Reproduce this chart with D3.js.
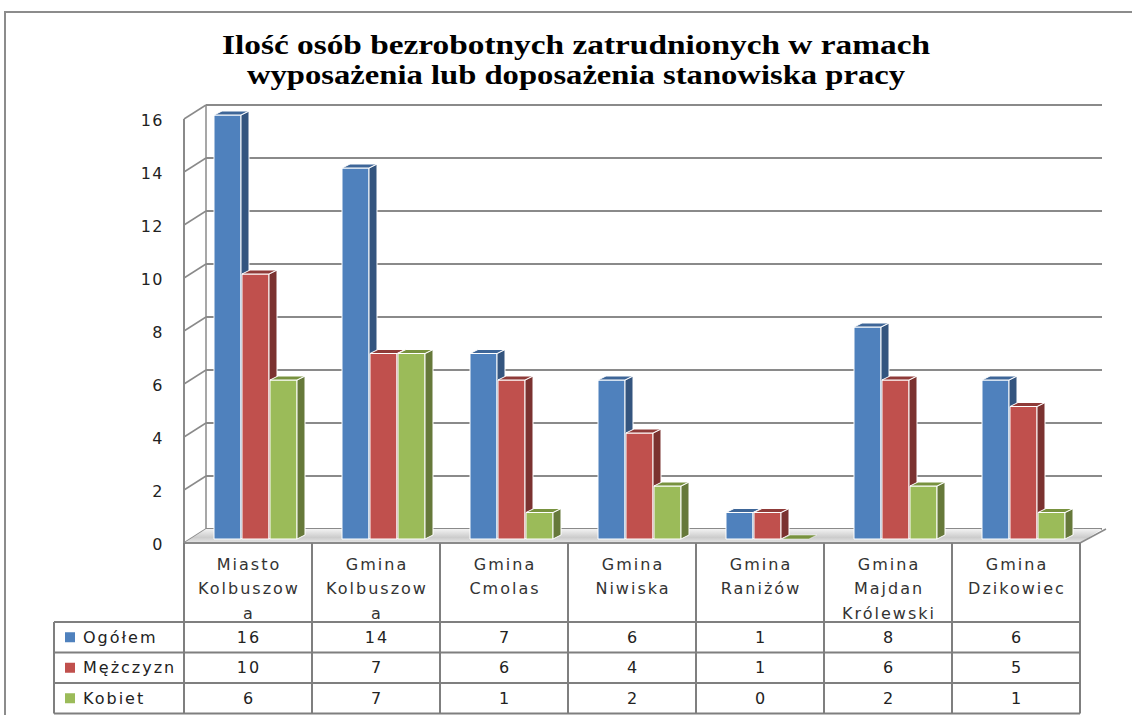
<!DOCTYPE html>
<html>
<head>
<meta charset="utf-8">
<script src="https://cdn.jsdelivr.net/npm/d3@7"></script>
<style>
  body { margin: 0; background: #fff; }
  svg text { font-family: "DejaVu Sans", sans-serif; }
</style>
</head>
<body>
<script>
// DATA
var categories = ["Miasto Kolbuszowa", "Gmina Kolbuszowa", "Gmina Cmolas", "Gmina Niwiska", "Gmina Raniżów", "Gmina Majdan Królewski", "Gmina Dzikowiec"];
var categoryLines = [["Miasto", "Kolbuszow", "a"], ["Gmina", "Kolbuszow", "a"], ["Gmina", "Cmolas"], ["Gmina", "Niwiska"], ["Gmina", "Raniżów"], ["Gmina", "Majdan", "Królewski"], ["Gmina", "Dzikowiec"]];
var seriesNames = ["Ogółem", "Mężczyzn", "Kobiet"];
var ogolem = [16, 14, 7, 6, 1, 8, 6];
var mezczyzn = [10, 7, 6, 4, 1, 6, 5];
var kobiet = [6, 7, 1, 2, 0, 2, 1];
var yTicks = [0, 2, 4, 6, 8, 10, 12, 14, 16];
var titleLines = ["Ilość osób bezrobotnych zatrudnionych w ramach", "wyposażenia lub doposażenia stanowiska pracy"];

var seriesValues = [ogolem, mezczyzn, kobiet];
var colors = [
  { front: "#4f81bd", side: "#34557f", top: "#3e6698" },
  { front: "#c0504d", side: "#7b3230", top: "#8f3b39" },
  { front: "#9bbb59", side: "#66793a", top: "#78923f" }
];

var w = 1132, h = 715;
var svg = d3.select("body").append("svg")
  .attr("width", w)
  .attr("height", h);

// gradient for the floor
var defs = svg.append("defs");
var grad = defs.append("linearGradient").attr("id", "floorGrad")
  .attr("x1", 0).attr("y1", 0).attr("x2", 0).attr("y2", 1);
grad.append("stop").attr("offset", "0%").attr("stop-color", "#f2f2f2");
grad.append("stop").attr("offset", "60%").attr("stop-color", "#cccccc");
grad.append("stop").attr("offset", "100%").attr("stop-color", "#e6e6e6");

// chart area border (cut by the window)
svg.append("path")
  .attr("d", "M5,715 L5,12 L1132,12")
  .attr("fill", "none")
  .attr("stroke", "#8c8c8c")
  .attr("stroke-width", 2);

// TITLE
svg.selectAll(".title")
  .data(titleLines)
  .enter()
  .append("text")
    .attr("class", "title")
    .attr("x", 576)
    .attr("y", (d, i) => 54 + i * 30)
    .attr("text-anchor", "middle")
    .style("font-family", "'Liberation Serif', serif")
    .style("font-weight", "bold")
    .style("font-size", "27px")
    .attr("textLength", (d, i) => i == 0 ? 708 : 658)
    .attr("lengthAdjust", "spacingAndGlyphs")
    .text(d => d);

// SCALES (front plane)
var left = 184, right = 1080, floorY = 543;
var depthX = 22, depthY = -14;
var yScale = d3.scaleLinear().domain([0, 16]).range([floorY, 119]);
var xScale = d3.scaleBand().domain(categories).range([left, right]);
var xSub = d3.scaleBand().domain(seriesNames).range([24, 108]);

var grid = "#8a8a8a";

// back wall gridlines + side diagonals
var gridG = svg.append("g");
gridG.selectAll(".grid")
  .data(yTicks)
  .enter()
  .append("line")
    .attr("x1", left + depthX)
    .attr("x2", right + depthX)
    .attr("y1", d => yScale(d) + depthY)
    .attr("y2", d => yScale(d) + depthY)
    .attr("stroke", grid)
    .attr("stroke-width", 2);
gridG.selectAll(".diag")
  .data(yTicks)
  .enter()
  .append("line")
    .attr("x1", left)
    .attr("x2", left + depthX)
    .attr("y1", d => yScale(d))
    .attr("y2", d => yScale(d) + depthY)
    .attr("stroke", grid)
    .attr("stroke-width", 1.5);
gridG.append("line")
  .attr("x1", left + depthX).attr("x2", left + depthX)
  .attr("y1", yScale(16) + depthY).attr("y2", yScale(0) + depthY)
  .attr("stroke", grid).attr("stroke-width", 1.5);
gridG.append("line")
  .attr("x1", left).attr("x2", left)
  .attr("y1", yScale(16)).attr("y2", yScale(0))
  .attr("stroke", grid).attr("stroke-width", 2);

// floor
svg.append("polygon")
  .attr("points", [[left, floorY], [right, floorY], [right + depthX, floorY + depthY], [left + depthX, floorY + depthY]].join(" "))
  .attr("fill", "url(#floorGrad)")
  .attr("stroke", "none");
svg.append("line")
  .attr("x1", right).attr("y1", floorY)
  .attr("x2", right + depthX + 4).attr("y2", floorY + depthY)
  .attr("stroke", grid).attr("stroke-width", 1.5);

// y tick labels
svg.selectAll(".ytick")
  .data(yTicks)
  .enter()
  .append("text")
    .attr("x", 164)
    .attr("y", d => yScale(d) + 1)
    .attr("text-anchor", "end")
    .attr("dominant-baseline", "central")
    .style("font-size", "16px")
    .style("letter-spacing", "1.5px")
    .attr("fill", "#222")
    .text(d => d);

// BARS (3D)
var offX = 6, offY = -4;   // bar front plane behind floor edge
var bdx = 8, bdy = -4;     // bar depth
var barBottom = floorY + offY;
var barsG = svg.append("g");
categories.forEach(function(cat, ci) {
  seriesNames.forEach(function(s, si) {
    var v = seriesValues[si][ci];
    var x0 = xScale(cat) + offX + xSub(s);
    var bw = xSub.bandwidth() - 1;
    var yTop = yScale(v) + offY;
    var c = colors[si];
    var g = barsG.append("g").attr("stroke", "#fff").attr("stroke-width", 1).attr("stroke-linejoin", "round");
    if (v > 0) {
      g.append("rect")
        .attr("x", x0).attr("y", yTop)
        .attr("width", bw).attr("height", barBottom - yTop)
        .attr("fill", c.front);
      g.append("polygon")
        .attr("points", [[x0 + bw, yTop], [x0 + bw + bdx, yTop + bdy], [x0 + bw + bdx, barBottom + bdy], [x0 + bw, barBottom]].join(" "))
        .attr("fill", c.side);
    }
    g.append("polygon")
      .attr("points", [[x0, yTop], [x0 + bdx, yTop + bdy], [x0 + bw + bdx, yTop + bdy], [x0 + bw, yTop]].join(" "))
      .attr("fill", c.top)
      .attr("stroke-width", v > 0 ? 1 : 0.5);
  });
});

// floor front edge
svg.append("line")
  .attr("x1", left).attr("x2", right)
  .attr("y1", floorY).attr("y2", floorY)
  .attr("stroke", grid).attr("stroke-width", 2);

// DATA TABLE
var rowTop = 622, rowH = 30.5, labelLeft = 54;
var tableG = svg.append("g");
var lineColor = "#7f7f7f";
var colEdges = categories.map(c => xScale(c)).concat([right]);
tableG.selectAll(".vline")
  .data(colEdges)
  .enter()
  .append("line")
    .attr("x1", d => d).attr("x2", d => d)
    .attr("y1", floorY).attr("y2", rowTop + 3 * rowH)
    .attr("stroke", lineColor).attr("stroke-width", 2);
tableG.append("line")
  .attr("x1", labelLeft).attr("x2", labelLeft)
  .attr("y1", rowTop).attr("y2", rowTop + 3 * rowH)
  .attr("stroke", lineColor).attr("stroke-width", 2);
tableG.selectAll(".hline")
  .data([0, 1, 2, 3])
  .enter()
  .append("line")
    .attr("x1", labelLeft).attr("x2", right)
    .attr("y1", d => rowTop + d * rowH).attr("y2", d => rowTop + d * rowH)
    .attr("stroke", lineColor).attr("stroke-width", 2);

// header (category names)
categories.forEach(function(cat, ci) {
  tableG.selectAll(null)
    .data(categoryLines[ci])
    .enter()
    .append("text")
      .attr("x", xScale(cat) + xScale.bandwidth() / 2 + 1)
      .attr("y", (d, i) => 564 + i * 24.5)
      .attr("text-anchor", "middle")
      .attr("dominant-baseline", "central")
      .style("font-size", "16px")
      .style("letter-spacing", "2px")
      .attr("fill", "#333")
      .text(d => d);
});

// rows
seriesNames.forEach(function(s, si) {
  var cy = rowTop + si * rowH + rowH / 2;
  tableG.append("rect")
    .attr("x", 65).attr("y", cy - 5)
    .attr("width", 10).attr("height", 10)
    .attr("fill", colors[si].front);
  tableG.append("text")
    .attr("x", 83).attr("y", cy)
    .attr("dominant-baseline", "central")
    .style("font-size", "16px")
    .style("letter-spacing", "2px")
    .attr("fill", "#222")
    .text(s);
  tableG.selectAll(null)
    .data(seriesValues[si])
    .enter()
    .append("text")
      .attr("x", (d, i) => xScale(categories[i]) + xScale.bandwidth() / 2 + 1)
      .attr("y", cy)
      .attr("text-anchor", "middle")
      .attr("dominant-baseline", "central")
      .style("font-size", "16px")
      .style("letter-spacing", "2px")
      .attr("fill", "#222")
      .text(d => d);
});
</script>
</body>
</html>
